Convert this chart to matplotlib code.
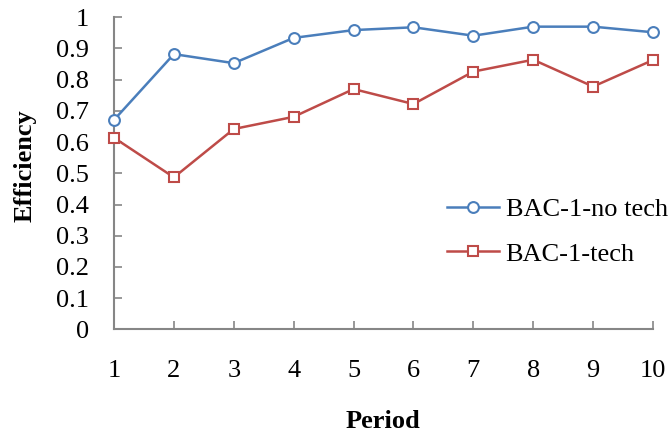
import matplotlib
matplotlib.use("Agg")
import matplotlib.pyplot as plt

periods = [1, 2, 3, 4, 5, 6, 7, 8, 9, 10]
no_tech = [0.671, 0.882, 0.853, 0.934, 0.959, 0.968, 0.941, 0.970, 0.970, 0.952]
tech = [0.614, 0.487, 0.642, 0.681, 0.770, 0.722, 0.826, 0.864, 0.778, 0.863]
y_ticks = [0, 0.1, 0.2, 0.3, 0.4, 0.5, 0.6, 0.7, 0.8, 0.9, 1]
y_tick_labels = ["0", "0.1", "0.2", "0.3", "0.4", "0.5", "0.6", "0.7", "0.8", "0.9", "1"]

plt.rcParams["font.family"] = ["Liberation Serif", "DejaVu Serif"]

fig = plt.figure(figsize=(6.71, 4.36), dpi=100)
ax = fig.add_axes([114 / 671, 1 - 329.3 / 436, (653 - 114) / 671, (329.3 - 17.3) / 436])

blue = "#4A7EBB"
red = "#BE4B48"
ax.plot(periods, no_tech, color=blue, lw=1.8, marker="o", ms=7.8,
        mfc="white", mec=blue, mew=1.5, label="BAC-1-no tech")
ax.plot(periods, tech, color=red, lw=1.8, marker="s", ms=7.8,
        mfc="white", mec=red, mew=1.5, label="BAC-1-tech")

ax.set_xlim(1, 10)
ax.set_ylim(0, 1)
ax.set_xticks(periods)
ax.set_yticks(y_ticks)
ax.set_yticklabels(y_tick_labels)

for side in ("top", "right"):
    ax.spines[side].set_visible(False)
for side in ("left", "bottom"):
    ax.spines[side].set_color("#868686")
    ax.spines[side].set_linewidth(1.5)
    ax.spines[side].set_zorder(0.5)

ax.tick_params(axis="both", direction="in", length=6, width=1.2,
               color="#868686", labelsize=19, labelcolor="black")
ax.tick_params(axis="x", pad=22)
ax.tick_params(axis="y", pad=18)

for line in ax.get_lines():
    line.set_clip_on(False)

fig.text(383 / 671, 1 - 421 / 436, "Period", ha="center", va="center",
         fontsize=19, fontweight="bold")
fig.text(25 / 671, 1 - 166 / 436, "Efficiency", ha="center", va="center",
         rotation=90, fontsize=19, fontweight="bold")

leg = ax.legend(loc="upper left", bbox_to_anchor=(447 / 671, 1 - 198 / 436),
                bbox_transform=fig.transFigure, frameon=False, fontsize=19,
                handlelength=1.97, handletextpad=0.25, labelspacing=0.78,
                borderpad=0, borderaxespad=0)

fig.savefig("out.png", dpi=100)
